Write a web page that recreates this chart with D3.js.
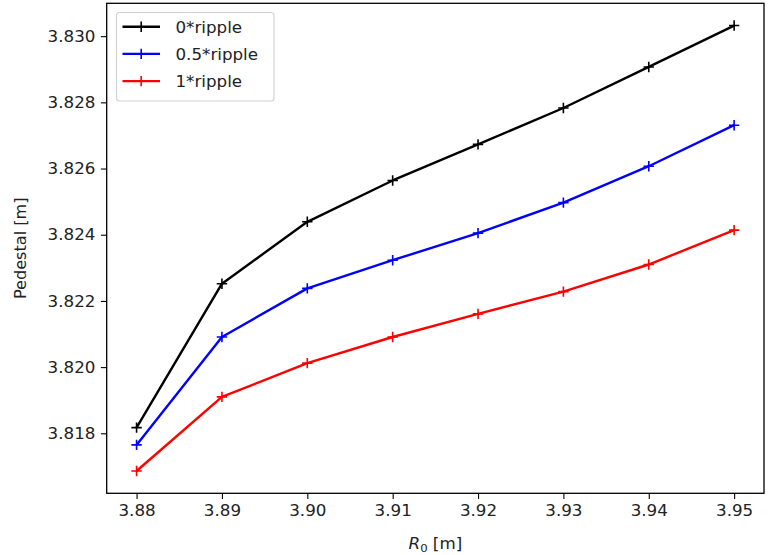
<!DOCTYPE html>
<html><head><meta charset="utf-8">
<script src="https://cdn.jsdelivr.net/npm/d3@7"></script>
<style>body{margin:0;background:#fff}svg{display:block;font-family:"DejaVu Sans",sans-serif}</style>
</head><body><div id="chart"></div>
<script>
const xValues = [3.88, 3.89, 3.90, 3.91, 3.92, 3.93, 3.94, 3.95];
const ripple0 = [3.81817, 3.82252, 3.82439, 3.82564, 3.82673, 3.82783, 3.82907, 3.83032];
const ripple05 = [3.81765, 3.82091, 3.82238, 3.82323, 3.82405, 3.82497, 3.82607, 3.82731];
const ripple1 = [3.81686, 3.81910, 3.82012, 3.82091, 3.82161, 3.82228, 3.82310, 3.82414];
const seriesNames = ["0*ripple", "0.5*ripple", "1*ripple"];
const seriesColors = ["#000000", "#0000ff", "#ff0000"];
const xTicks = [3.88, 3.89, 3.90, 3.91, 3.92, 3.93, 3.94, 3.95];
const yTicks = [3.818, 3.820, 3.822, 3.824, 3.826, 3.828, 3.830];
const xLabel = "R";
const yLabel = "Pedestal [m]";

const W = 768, H = 555;
const L = 106.7, R = 764, T = 3.3, B = 493.3;
const series = [ripple0, ripple05, ripple1];
const SX = 1.038; // horizontal text stretch

const svg = d3.select("#chart").append("svg").attr("width", W).attr("height", H);

const xmin = d3.min(xValues), xmax = d3.max(xValues);
const xm = (xmax - xmin) * 0.05;
const allY = series.flat();
const ymin = d3.min(allY), ymax = d3.max(allY);
const ym = (ymax - ymin) * 0.05;

const x = d3.scaleLinear().domain([xmin - xm, xmax + xm]).range([L, R]);
const y = d3.scaleLinear().domain([ymin - ym, ymax + ym]).range([B, T]);

const fs = 16.1;
// axes
const xAxis = svg.append("g").attr("transform", `translate(0,${B})`)
  .call(d3.axisBottom(x).tickValues(xTicks).tickFormat(d3.format(".2f")).tickSize(5.6).tickPadding(5.2));
const yAxis = svg.append("g").attr("transform", `translate(${L},0)`)
  .call(d3.axisLeft(y).tickValues(yTicks).tickFormat(d3.format(".3f")).tickSize(5.8).tickPadding(5.5));
[xAxis, yAxis].forEach(g => {
  g.select(".domain").remove();
  g.selectAll(".tick line").attr("stroke", "#000").attr("stroke-width", 1.1);
  g.selectAll(".tick text").attr("fill", "#222").attr("font-size", fs).attr("font-family", "DejaVu Sans");
});
xAxis.selectAll(".tick text").attr("transform", `scale(${SX},1)`);
yAxis.selectAll(".tick text").each(function () {
  const t = d3.select(this);
  const tx = +t.attr("x");
  t.attr("transform", `translate(${tx},0) scale(${SX},1) translate(${-tx},0)`);
});

// lines
const line = d3.line().x((d, i) => x(xValues[i])).y(d => y(d));
series.forEach((s, k) => {
  svg.append("path").datum(s).attr("d", line).attr("fill", "none")
    .attr("stroke", seriesColors[k]).attr("stroke-width", 2.4).attr("stroke-linejoin", "round");
  const ms = 5.2;
  svg.append("g").selectAll("path").data(s).join("path")
    .attr("d", (d, i) => {
      const px = x(xValues[i]), py = y(d);
      return `M${px - ms},${py}H${px + ms}M${px},${py - ms}V${py + ms}`;
    })
    .attr("stroke", seriesColors[k]).attr("stroke-width", 1.6).attr("fill", "none");
});

// frame
svg.append("rect").attr("x", L).attr("y", T).attr("width", R - L).attr("height", B - T)
  .attr("fill", "none").attr("stroke", "#000").attr("stroke-width", 1.3);

// axis labels
const xl = svg.append("text").attr("transform", `translate(${(L + R) / 2},549) scale(${SX},1)`)
  .attr("text-anchor", "middle").attr("font-size", fs).attr("fill", "#222");
xl.append("tspan").attr("font-style", "italic").text(xLabel);
xl.append("tspan").attr("font-size", fs * 0.7).attr("dy", 3).text("0");
xl.append("tspan").attr("dy", -3).text(" [m]");

svg.append("text").attr("transform", `translate(26,${(T + B) / 2}) rotate(-90) scale(1,${SX})`)
  .attr("text-anchor", "middle").attr("font-size", fs).attr("fill", "#222").text(yLabel);

// legend
const lg = svg.append("g");
lg.append("rect").attr("x", 116.5).attr("y", 12.5).attr("width", 157.5).attr("height", 88.5)
  .attr("rx", 3).attr("fill", "#fff").attr("fill-opacity", 0.8).attr("stroke", "#d0d0d0").attr("stroke-width", 1.1);
seriesNames.forEach((n, k) => {
  const yy = 26.7 + k * 27.2;
  lg.append("line").attr("x1", 122.5).attr("x2", 160).attr("y1", yy).attr("y2", yy)
    .attr("stroke", seriesColors[k]).attr("stroke-width", 2.4);
  lg.append("path").attr("d", `M${141.2 - 5.2},${yy}H${141.2 + 5.2}M141.2,${yy - 5.2}V${yy + 5.2}`)
    .attr("stroke", seriesColors[k]).attr("stroke-width", 1.6);
  lg.append("text").attr("transform", `translate(175.5,${yy + 6}) scale(${SX},1)`)
    .attr("font-size", fs).attr("fill", "#222").text(n);
});
</script></body></html>
